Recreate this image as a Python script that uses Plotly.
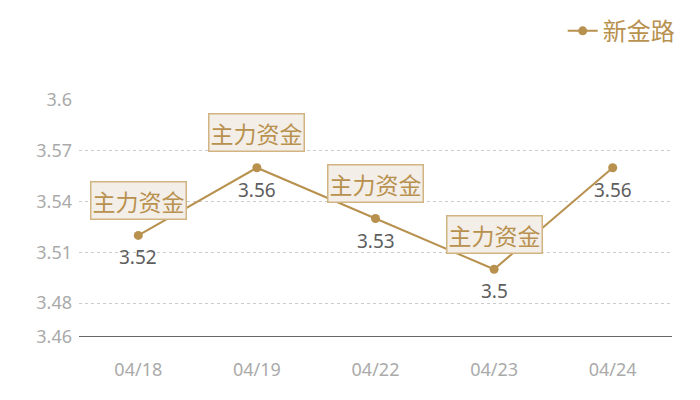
import plotly.graph_objects as go

# 数据
dates = ['04/18', '04/19', '04/22', '04/23', '04/24']
prices = [3.52, 3.56, 3.53, 3.5, 3.56]
tag_dates = ['04/18', '04/19', '04/22', '04/23']
tag_prices = [3.52, 3.56, 3.53, 3.5]
tag_text = '主力资金'
y_ticks = [3.46, 3.48, 3.51, 3.54, 3.57, 3.6]

gold = '#b8914f'
cjk = 'Noto Sans CJK SC'
num_font = 'Noto Sans'

fig = go.Figure()

fig.add_trace(go.Scatter(
    x=dates,
    y=prices,
    name='新金路',
    mode='lines+markers',
    line=dict(color=gold, width=2),
    marker=dict(color=gold, size=9),
    cliponaxis=False
))

# 数值标签
for d, p in zip(dates, prices):
    fig.add_annotation(
        x=d, y=p, text=str(p), showarrow=False,
        yshift=-22,
        font=dict(family=num_font, size=19, color='#5e5e5e')
    )

# 主力资金 标签
for d, p in zip(tag_dates, tag_prices):
    fig.add_annotation(
        x=d, y=p, text=tag_text, showarrow=False,
        yshift=35,
        font=dict(family=cjk, size=23, color=gold),
        bgcolor='#f3eee7', bordercolor='#d2b482', borderwidth=1.5, borderpad=1
    )

# 页面 body 默认有 8px 边距，这里的边距已扣除
fig.update_layout(
    width=700,
    height=400,
    margin=dict(l=71, r=36, t=92, b=71, autoexpand=False),
    plot_bgcolor='white',
    paper_bgcolor='white',
    font=dict(family=cjk),
    showlegend=True,
    legend=dict(
        x=1.013, y=1.385, xanchor='right', yanchor='top',
        font=dict(family=cjk, size=24, color=gold),
        itemwidth=30, bgcolor='rgba(0,0,0,0)'
    )
)

fig.update_xaxes(
    type='category',
    range=[-0.5, len(dates) - 0.5],
    showgrid=False,
    showline=False,
    tickfont=dict(family=num_font, size=18, color='#aaaaaa'),
    ticks='',
    ticklabelstandoff=20
)

fig.update_yaxes(
    range=[3.46, 3.6],
    tickvals=y_ticks,
    ticktext=[str(v) for v in y_ticks],
    showgrid=True,
    gridcolor='#cccccc',
    griddash='dot',
    gridwidth=1,
    zeroline=False,
    showline=False,
    tickfont=dict(family=num_font, size=18, color='#aaaaaa'),
    ticklabelstandoff=6
)

# 底部基线
fig.add_hline(y=3.46, line=dict(color='#333333', width=1.5))

fig.write_html("out.html")
